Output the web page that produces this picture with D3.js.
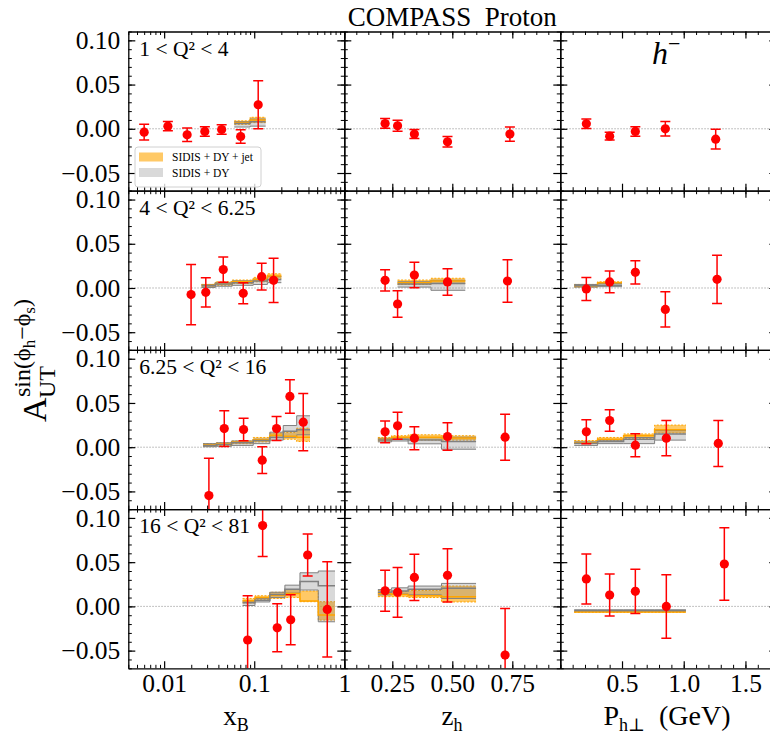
<!DOCTYPE html>
<html>
<head>
<meta charset="utf-8">
<script src="https://cdn.jsdelivr.net/npm/d3@7"></script>
<style>
  body { margin: 0; background: #fff; }
  svg text { font-family: "Liberation Serif", "DejaVu Serif", serif; fill: #000; }
</style>
</head>
<body>
<svg id="chart" width="770" height="738"></svg>
<script>
// --- data: [x, asymmetry, error] ---
const rowLabels = ['1 < Q² < 4', '4 < Q² < 6.25', '6.25 < Q² < 16', '16 < Q² < 81'];

const xbPoints = [
  [[0.006, -0.0038, 0.0089], [0.011, 0.003, 0.0053], [0.018, -0.0068, 0.0076], [0.0283, -0.003, 0.0053],
   [0.0435, -0.0008, 0.0055], [0.0707, -0.0087, 0.0077], [0.1107, 0.0272, 0.0272]],
  [[0.0199, -0.0075, 0.034], [0.029, -0.0049, 0.0166], [0.0453, 0.0208, 0.0143], [0.0755, -0.006, 0.0119],
   [0.121, 0.0128, 0.0151], [0.164, 0.0087, 0.025]],
  [[0.0314, -0.0547, 0.0423], [0.0465, 0.0211, 0.0202], [0.0762, 0.020, 0.0126], [0.1227, -0.0147, 0.0151],
   [0.177, 0.0211, 0.0136], [0.249, 0.0574, 0.0189], [0.35, 0.0283, 0.0323]],
  [[0.0845, -0.038, 0.050], [0.124, 0.0914, 0.035], [0.18, -0.0242, 0.0272], [0.254, -0.0151, 0.0283],
   [0.392, 0.0581, 0.0238], [0.647, -0.0034, 0.0538]]
];

const zhPoints = [
  [[0.22, 0.006, 0.0055], [0.272, 0.0034, 0.0062], [0.342, -0.006, 0.0051], [0.48, -0.0147, 0.006], [0.74, -0.006, 0.0081]],
  [[0.22, 0.0087, 0.012], [0.272, -0.0181, 0.0151], [0.342, 0.0147, 0.0143], [0.48, 0.0068, 0.0149], [0.73, 0.0079, 0.024]],
  [[0.22, 0.0174, 0.0123], [0.272, 0.0242, 0.0153], [0.342, 0.0102, 0.013], [0.48, 0.0121, 0.0155], [0.72, 0.0113, 0.026]],
  [[0.22, 0.0177, 0.0232], [0.272, 0.0159, 0.0281], [0.342, 0.0328, 0.0262], [0.48, 0.0351, 0.0302], [0.72, -0.0551, 0.0528]]
];

const phPoints = [
  [[0.211, 0.0057, 0.0055], [0.4, -0.0083, 0.0045], [0.608, -0.003, 0.0053], [0.851, 0.0, 0.0081], [1.259, -0.0117, 0.0111]],
  [[0.211, -0.0011, 0.013], [0.4, 0.0068, 0.0123], [0.608, 0.0177, 0.0132], [0.851, -0.0242, 0.020], [1.27, 0.0098, 0.0272]],
  [[0.211, 0.0174, 0.0136], [0.4, 0.0302, 0.0121], [0.608, 0.0023, 0.013], [0.859, 0.0102, 0.020], [1.28, 0.0042, 0.026]],
  [[0.211, 0.031, 0.0283], [0.4, 0.0128, 0.0238], [0.608, 0.017, 0.0251], [0.859, 0.0, 0.0359], [1.329, 0.0479, 0.041]]
];

// --- theory bands: bin edges and [low, central, high] per bin ---
const xbEdges = [
  [0.06, 0.09, 0.134],
  [0.026, 0.037, 0.057, 0.0975, 0.14, 0.2],
  [0.027, 0.038, 0.056, 0.0975, 0.149, 0.21, 0.296, 0.416],
  [0.0743, 0.102, 0.149, 0.219, 0.322, 0.514, 0.789]
];
const xbJet = [
  [[0.005, 0.007, 0.009], [0.007, 0.010, 0.013]],
  [[0.001, 0.003, 0.004], [0.003, 0.005, 0.007], [0.005, 0.007, 0.009], [0.007, 0.0095, 0.012], [0.011, 0.0135, 0.016]],
  [[0.001, 0.0025, 0.004], [0.002, 0.0035, 0.005], [0.004, 0.0055, 0.007], [0.006, 0.0085, 0.011],
   [0.011, 0.0135, 0.016], [0.009, 0.0125, 0.0166], [0.0064, 0.0113, 0.0215]],
  [[0.004, 0.0065, 0.009], [0.008, 0.010, 0.012], [0.009, 0.0125, 0.016], [0.010, 0.0145, 0.019],
   [0.0053, 0.006, 0.0174], [-0.0155, -0.0098, 0.0053]]
];
const xbDY = [
  [[0.002, 0.006, 0.008], [0.003, 0.008, 0.011]],
  [[0.0005, 0.0025, 0.004], [0.002, 0.0045, 0.006], [0.003, 0.006, 0.008], [0.004, 0.008, 0.010], [0.006, 0.0095, 0.013]],
  [[0.0005, 0.002, 0.004], [0.001, 0.003, 0.005], [0.002, 0.005, 0.007], [0.004, 0.0075, 0.009],
   [0.008, 0.011, 0.017], [0.0113, 0.018, 0.0245], [0.014, 0.0196, 0.0355]],
  [[0.001, 0.004, 0.006], [0.005, 0.007, 0.009], [0.010, 0.0135, 0.016], [0.015, 0.0195, 0.024],
   [0.0185, 0.028, 0.038], [-0.0174, 0.0234, 0.040]]
];

const zhEdges = [null, [0.272, 0.411, 0.554], [0.19, 0.247, 0.316, 0.455, 0.599], [0.19, 0.247, 0.316, 0.455, 0.599]];
const zhJet = [
  null,
  [[0.004, 0.006, 0.009], [0.005, 0.008, 0.011]],
  [[0.007, 0.009, 0.011], [0.009, 0.0113, 0.013], [0.008, 0.0113, 0.014], [0.008, 0.0105, 0.013]],
  [[0.011, 0.0145, 0.018], [0.011, 0.0135, 0.017], [0.010, 0.012, 0.018], [0.005, 0.011, 0.023]]
];
const zhDY = [
  null,
  [[0.001, 0.0045, 0.007], [-0.0026, 0.005, 0.0087]],
  [[0.006, 0.008, 0.010], [0.007, 0.009, 0.011], [0.0038, 0.008, 0.011], [-0.0023, 0.0065, 0.0113]],
  [[0.013, 0.016, 0.019], [0.014, 0.0175, 0.021], [0.013, 0.0195, 0.023], [0.009, 0.0205, 0.026]]
];

const phEdges = [null, [0.113, 0.302, 0.5], [0.113, 0.302, 0.513, 0.764, 1.018], [0.113, 0.302, 0.513, 0.764, 1.018]];
const phJet = [
  null,
  [[0.001, 0.0025, 0.004], [0.005, 0.006, 0.007]],
  [[0.004, 0.005, 0.0075], [0.0075, 0.009, 0.011], [0.010, 0.0128, 0.015], [0.016, 0.0196, 0.025]],
  [[-0.0068, -0.0063, -0.0058], [-0.0068, -0.0063, -0.0058], [-0.0068, -0.0063, -0.0058], [-0.0068, -0.0063, -0.0058]]
];
const phDY = [
  null,
  [[0.001, 0.0025, 0.004], [0.0015, 0.003, 0.005]],
  [[0.002, 0.0045, 0.006], [0.004, 0.0065, 0.008], [0.004, 0.009, 0.011], [0.008, 0.015, 0.019]],
  [[-0.0055, -0.0047, -0.0039], [-0.0055, -0.0047, -0.0039], [-0.0055, -0.0047, -0.0039], [-0.0055, -0.0047, -0.0039]]
];

const yMajor = [-0.05, 0, 0.05, 0.10];
const xMajor = [[0.01, 0.1, 1], [0.25, 0.5, 0.75], [0.5, 1.0, 1.5]];
const xTickLabels = [['0.01', '0.1', '1'], ['0.25', '0.50', '0.75'], ['0.5', '1.0', '1.5']];

// --- layout ---
const svg = d3.select('#chart');
const left0 = 128.3, top0 = 31.5, pw = 216, ph = 159.2;
const orange = '#ffa500', grayLine = '#808080';

const y = d3.scaleLinear().domain([-0.07, 0.11]).range([ph, 0]);
const xScales = [
  d3.scaleLog().domain([0.004, 1]).range([0, pw]),
  d3.scaleLinear().domain([0.05, 0.95]).range([0, pw]),
  d3.scaleLinear().domain([0, 1.75]).range([0, pw])
];

const logMinor = [];
[0.001, 0.01, 0.1].forEach(dec => {
  for (let k = 2; k <= 9; k++) {
    const v = dec * k;
    if (v >= 0.004 && v < 1) logMinor.push(v);
  }
});
const xMinor = [
  logMinor,
  d3.range(0.05, 0.951, 0.05),
  d3.range(0, 1.751, 0.1)
];
const yMinor = d3.range(-0.07, 0.1101, 0.01);

const columns = [
  { points: xbPoints, edges: xbEdges, jet: xbJet, dy: xbDY },
  { points: zhPoints, edges: zhEdges, jet: zhJet, dy: zhDY },
  { points: phPoints, edges: phEdges, jet: phJet, dy: phDY }
];

const defs = svg.append('defs');
defs.append('clipPath').attr('id', 'panelClip')
  .append('rect').attr('x', 0).attr('y', 0).attr('width', pw).attr('height', ph);

function stepPoints(edges, bins) {
  const pts = [];
  bins.forEach((b, i) => {
    pts.push({ x: edges[i], lo: b[0], mid: b[1], hi: b[2] });
    pts.push({ x: edges[i + 1], lo: b[0], mid: b[1], hi: b[2] });
  });
  return pts;
}

function drawBand(g, x, edges, bins, fill, fillOpacity, lineColor, dash) {
  const pts = stepPoints(edges, bins);
  const area = d3.area().x(d => x(d.x)).y0(d => y(d.lo)).y1(d => y(d.hi));
  g.append('path').datum(pts).attr('d', area)
    .attr('fill', fill).attr('fill-opacity', fillOpacity).attr('stroke', 'none');
  ['lo', 'hi'].forEach(k => {
    g.append('path').datum(pts)
      .attr('d', d3.line().x(d => x(d.x)).y(d => y(d[k])))
      .attr('fill', 'none').attr('stroke', lineColor).attr('stroke-width', 1)
      .attr('stroke-dasharray', dash);
  });
}

function drawMid(g, x, edges, bins, color) {
  const pts = stepPoints(edges, bins);
  g.append('path').datum(pts)
    .attr('d', d3.line().x(d => x(d.x)).y(d => y(d.mid)))
    .attr('fill', 'none').attr('stroke', color).attr('stroke-width', 1.5);
}

for (let r = 0; r < 4; r++) {
  for (let c = 0; c < 3; c++) {
    const x = xScales[c];
    const col = columns[c];
    const panel = svg.append('g')
      .attr('transform', `translate(${left0 + c * pw},${top0 + r * ph})`);
    const plot = panel.append('g').attr('clip-path', 'url(#panelClip)');

    // zero line
    plot.append('line')
      .attr('x1', 0).attr('x2', pw).attr('y1', y(0)).attr('y2', y(0))
      .attr('stroke', '#999').attr('stroke-width', 0.8).attr('stroke-dasharray', '1.5,1.5');

    // theory bands
    if (col.edges[r]) {
      drawBand(plot, x, col.edges[r], col.jet[r], orange, 0.6, orange, '2,1.5');
      drawBand(plot, x, col.edges[r], col.dy[r], grayLine, 0.3, grayLine, null);
      drawMid(plot, x, col.edges[r], col.jet[r], orange);
      drawMid(plot, x, col.edges[r], col.dy[r], grayLine);
    }

    // data points with error bars
    const pts = plot.selectAll('g.pt').data(col.points[r]).enter().append('g').attr('class', 'pt');
    pts.append('line')
      .attr('x1', d => x(d[0])).attr('x2', d => x(d[0]))
      .attr('y1', d => y(d[1] - d[2])).attr('y2', d => y(d[1] + d[2]))
      .attr('stroke', 'red').attr('stroke-width', 1.5);
    [-1, 1].forEach(s => {
      pts.append('line')
        .attr('x1', d => x(d[0]) - 5).attr('x2', d => x(d[0]) + 5)
        .attr('y1', d => y(d[1] + s * d[2])).attr('y2', d => y(d[1] + s * d[2]))
        .attr('stroke', 'red').attr('stroke-width', 1.5);
    });
    pts.append('circle')
      .attr('cx', d => x(d[0])).attr('cy', d => y(d[1])).attr('r', 4.6)
      .attr('fill', 'red');

    // axes (ticks pointing inward on all sides)
    const fmtX = v => xTickLabels[c][xMajor[c].findIndex(m => Math.abs(m - v) < 1e-9)];
    const axes = [
      { gen: d3.axisBottom(x), tr: `translate(0,${ph})`, major: xMajor[c], minor: xMinor[c], labels: r === 3, fmt: fmtX, pad: 6 },
      { gen: d3.axisTop(x), tr: 'translate(0,0)', major: xMajor[c], minor: xMinor[c], labels: false, pad: 8 },
      { gen: d3.axisLeft(y), tr: 'translate(0,0)', major: yMajor, minor: yMinor, labels: c === 0, fmt: d3.format('.2f'), pad: 8 },
      { gen: d3.axisRight(y), tr: `translate(${pw},0)`, major: yMajor, minor: yMinor, labels: false, pad: 8 }
    ];
    axes.forEach(a => {
      const gMinor = panel.append('g').attr('transform', a.tr)
        .call(a.gen.tickValues(a.minor).tickFormat('').tickSizeInner(-3.5).tickSizeOuter(0));
      gMinor.select('.domain').remove();
      gMinor.selectAll('line').attr('stroke-width', 1);
      const gMajor = panel.append('g').attr('transform', a.tr)
        .call(a.gen.tickValues(a.major)
          .tickFormat(a.labels ? a.fmt : () => '')
          .tickSizeInner(-7).tickSizeOuter(0).tickPadding(a.pad));
      gMajor.select('.domain').attr('stroke-width', 1.3);
      gMajor.selectAll('line').attr('stroke-width', 1.2);
      gMajor.attr('font-family', null).attr('font-size', null);
      gMajor.selectAll('text').style('font-size', '25.5px');
    });

    if (c === 0) {
      panel.append('text').attr('x', 11).attr('y', 24)
        .style('font-size', '21.5px').text(rowLabels[r]);
    }
  }
}

// legend in the top-left panel
const leg = svg.append('g').attr('transform', 'translate(135,147)');
leg.append('rect').attr('width', 126).attr('height', 40).attr('rx', 3)
  .attr('fill', '#fff').attr('fill-opacity', 0.8).attr('stroke', '#d0d0d0').attr('stroke-width', 1);
leg.append('rect').attr('x', 4).attr('y', 5.5).attr('width', 24).attr('height', 9)
  .attr('fill', orange).attr('fill-opacity', 0.6);
leg.append('rect').attr('x', 4).attr('y', 21).attr('width', 24).attr('height', 9)
  .attr('fill', grayLine).attr('fill-opacity', 0.3);
leg.append('text').attr('x', 37).attr('y', 14).style('font-size', '11.5px').text('SIDIS + DY + jet');
leg.append('text').attr('x', 37).attr('y', 30).style('font-size', '11.5px').text('SIDIS + DY');

// title and h^- label
svg.append('text').attr('x', left0 + 1.5 * pw).attr('y', 26).attr('text-anchor', 'middle')
  .style('font-size', '27px').style('white-space', 'pre').text('COMPASS  Proton');
const hm = svg.append('text').attr('x', 652).attr('y', 64).style('font-size', '32px');
hm.append('tspan').style('font-style', 'italic').text('h');
hm.append('tspan').attr('dy', -13).style('font-size', '22px').text('−');

// x-axis titles
const xt = svg.append('g').attr('transform', 'translate(0,725)');
const t1 = xt.append('text').attr('x', 236).attr('text-anchor', 'middle').style('font-size', '27px');
t1.append('tspan').text('x');
t1.append('tspan').attr('dy', 6).style('font-size', '18px').text('B');
const t2 = xt.append('text').attr('x', 452).attr('text-anchor', 'middle').style('font-size', '27px');
t2.append('tspan').text('z');
t2.append('tspan').attr('dy', 6).style('font-size', '18px').text('h');
const t3 = xt.append('text').attr('x', 667).attr('text-anchor', 'middle')
  .style('font-size', '28px').style('white-space', 'pre');
t3.append('tspan').text('P');
t3.append('tspan').attr('dy', 6).style('font-size', '18px').text('h⊥');
t3.append('tspan').attr('dy', -6).text('  (GeV)');

// y-axis title, rotated
const yl = svg.append('g').attr('transform', 'translate(46,422) rotate(-90)');
yl.append('text').attr('x', 0).attr('y', 0).style('font-size', '34px').text('A');
yl.append('text').attr('x', 24).attr('y', 9).style('font-size', '24px').text('UT');
const sup = yl.append('text').attr('x', 25).attr('y', -16).style('font-size', '24px');
sup.append('tspan').text('sin(ϕ');
sup.append('tspan').attr('dy', 5).style('font-size', '17px').text('h');
sup.append('tspan').attr('dy', -5).text('−ϕ');
sup.append('tspan').attr('dy', 5).style('font-size', '17px').text('s');
sup.append('tspan').attr('dy', -5).text(')');
</script>
</body>
</html>
